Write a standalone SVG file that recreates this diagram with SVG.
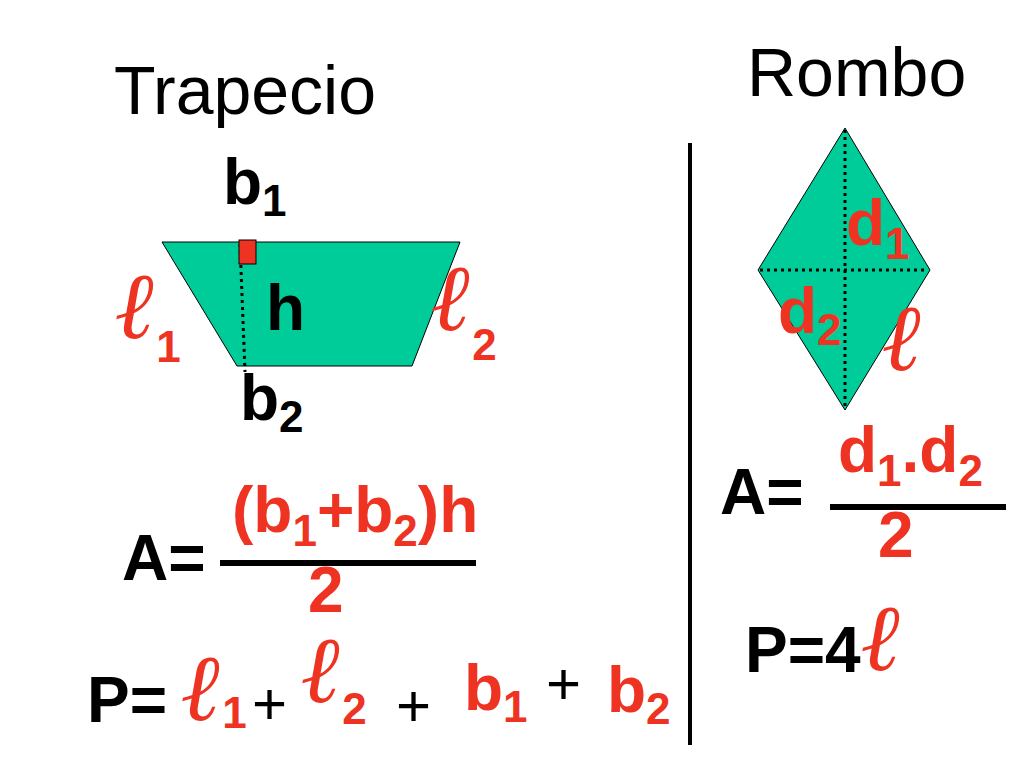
<svg xmlns="http://www.w3.org/2000/svg" width="1024" height="768" viewBox="0 0 1024 768">
<style>
text{font-family:"Liberation Sans",Arial,sans-serif}
.t{font-size:68px;fill:#000}
.b{font-weight:bold;font-size:64px;fill:#000}
.r{font-weight:bold;font-size:64px;fill:#EE3322}
.l{font-family:"DejaVu Serif","Liberation Serif",serif;font-style:italic;font-weight:bold;font-size:94px;fill:#EE3322}
.s{font-size:44px;font-family:"Liberation Sans",Arial,sans-serif;font-style:normal;font-weight:bold}
.p{font-size:60px;fill:#000}
.dot{stroke:#000;stroke-width:3;stroke-dasharray:3 4;fill:none}
</style>
<rect width="1024" height="768" fill="#fff"/>
<text class="t" x="114" y="114">Trapecio</text>
<text class="t" x="747" y="96">Rombo</text>
<line x1="690" y1="143" x2="690" y2="745" stroke="#000" stroke-width="4"/>
<g id="trapecio">
<polygon points="162,242 460,242 412,366 237,366" fill="#00CC99" stroke="#000" stroke-width="1"/>
<line class="dot" x1="240" y1="244" x2="245" y2="372"/>
<rect x="239" y="240" width="17" height="24" fill="#EE3322" stroke="#000" stroke-width="1"/>
<text class="b" x="223" y="204">b<tspan class="s" dy="12">1</tspan></text>
<text class="b" x="266" y="330" font-size="66">h</text>
<text class="b" x="240" y="420">b<tspan class="s" dy="12">2</tspan></text>
<text class="l" x="116" y="338">ℓ<tspan class="s" fill="#EE3322" dy="24">1</tspan></text>
<text class="l" x="432" y="330">ℓ<tspan class="s" fill="#EE3322" dy="30">2</tspan></text>
</g>
<g id="rombo">
<polygon points="845,128 930,270 845,410 758,270" fill="#00CC99" stroke="#000" stroke-width="1"/>
<line class="dot" x1="845" y1="130" x2="845" y2="408"/>
<line class="dot" x1="760" y1="270" x2="928" y2="270"/>
<text class="r" x="846" y="245">d<tspan class="s" dy="14">1</tspan></text>
<text class="r" x="778" y="333">d<tspan class="s" dy="12">2</tspan></text>
<text class="l" x="883" y="370">ℓ</text>
</g>
<g id="formulas">
<text class="b" x="720" y="514" font-size="70">A=</text>
<text class="r" x="838" y="472">d<tspan class="s" dy="14">1</tspan><tspan dy="-14">.d</tspan><tspan class="s" dy="14">2</tspan></text>
<line x1="830" y1="507" x2="1006" y2="507" stroke="#000" stroke-width="6"/>
<text class="r" x="878" y="557" font-size="66">2</text>
<text class="b" x="745" y="672" font-size="70">P=4</text>
<text class="l" x="862" y="670">ℓ</text>
<text class="b" x="122" y="580" font-size="70">A=</text>
<text class="r" x="232" y="532">(b<tspan class="s" dy="14">1</tspan><tspan dy="-14">+b</tspan><tspan class="s" dy="14">2</tspan><tspan dy="-14">)h</tspan></text>
<line x1="220" y1="563" x2="476" y2="563" stroke="#000" stroke-width="6"/>
<text class="r" x="308" y="612" font-size="66">2</text>
<text class="b" x="87" y="722" font-size="70">P=</text>
<text class="l" x="182" y="720">ℓ<tspan class="s" fill="#EE3322" dy="8">1</tspan></text>
<text class="p" x="252" y="724">+</text>
<text class="l" x="302" y="702">ℓ<tspan class="s" fill="#EE3322" dy="22">2</tspan></text>
<text class="p" x="396" y="726">+</text>
<text class="r" x="464" y="710">b<tspan class="s" dy="12">1</tspan></text>
<text class="p" x="546" y="704">+</text>
<text class="r" x="607" y="712">b<tspan class="s" dy="12">2</tspan></text>
</g>
</svg>
